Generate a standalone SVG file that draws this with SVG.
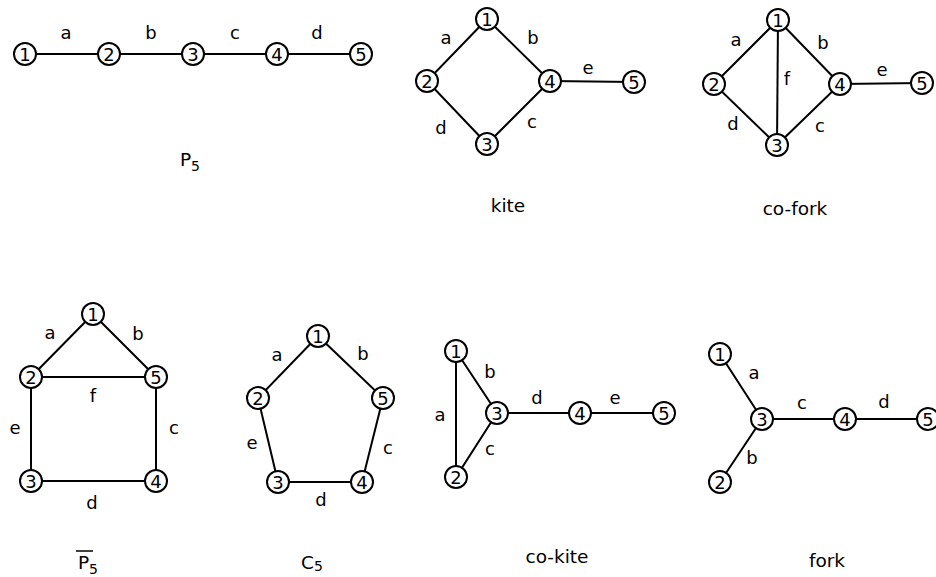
<svg xmlns="http://www.w3.org/2000/svg" width="936" height="577" viewBox="0 0 936 577">
<style>
.e{stroke:#000;stroke-width:2;fill:none}
.n circle{fill:#fff;stroke:#000;stroke-width:2}
.n text{font-family:"DejaVu Sans",sans-serif;font-size:18px;text-anchor:middle;fill:#000}
.l{font-family:"DejaVu Sans",sans-serif;font-size:18px;text-anchor:middle;fill:#000}
.t{font-family:"DejaVu Sans",sans-serif;font-size:18.5px;text-anchor:middle;fill:#000}
</style>
<rect width="936" height="577" fill="#fff"/>

<!-- P5 -->
<g id="p5-edges" class="e">
<line x1="25" y1="54" x2="361" y2="54"/>
</g>
<g id="p5-n1" class="n"><circle cx="25" cy="54" r="11"/><text x="25" y="60.5">1</text></g>
<g id="p5-n2" class="n"><circle cx="109" cy="54" r="11"/><text x="109" y="60.5">2</text></g>
<g id="p5-n3" class="n"><circle cx="193" cy="54" r="11"/><text x="193" y="60.5">3</text></g>
<g id="p5-n4" class="n"><circle cx="277" cy="54" r="11"/><text x="277" y="60.5">4</text></g>
<g id="p5-n5" class="n"><circle cx="361" cy="54" r="11"/><text x="361" y="60.5">5</text></g>
<g class="l"><text x="66" y="39">a</text><text x="151" y="39">b</text><text x="235" y="39">c</text><text x="317" y="39">d</text></g>
<text class="t" x="190" y="166">P<tspan font-size="14" dy="5">5</tspan></text>

<!-- kite -->
<g id="kite-edges" class="e">
<polyline points="487,19 427,81 487,144 550,81 487,19"/>
<line x1="550" y1="81" x2="634" y2="82"/>
</g>
<g id="kite-n1" class="n"><circle cx="487" cy="19" r="11"/><text x="487" y="25.5">1</text></g>
<g id="kite-n2" class="n"><circle cx="427" cy="81" r="11"/><text x="427" y="87.5">2</text></g>
<g id="kite-n3" class="n"><circle cx="487" cy="144" r="11"/><text x="487" y="150.5">3</text></g>
<g id="kite-n4" class="n"><circle cx="550" cy="81" r="11"/><text x="550" y="87.5">4</text></g>
<g id="kite-n5" class="n"><circle cx="634" cy="82" r="11"/><text x="634" y="88.5">5</text></g>
<g class="l"><text x="446" y="44">a</text><text x="533" y="44">b</text><text x="441" y="134">d</text><text x="532" y="128">c</text><text x="588" y="74">e</text></g>
<text class="t" x="508" y="212">kite</text>

<!-- co-fork -->
<g id="cofork-edges" class="e">
<polyline points="778,20 714,84 777,145 840,84 778,20"/>
<line x1="778" y1="20" x2="777" y2="145"/>
<line x1="840" y1="84" x2="922" y2="83"/>
</g>
<g id="cofork-n1" class="n"><circle cx="778" cy="20" r="11"/><text x="778" y="26.5">1</text></g>
<g id="cofork-n2" class="n"><circle cx="714" cy="84" r="11"/><text x="714" y="90.5">2</text></g>
<g id="cofork-n3" class="n"><circle cx="777" cy="145" r="11"/><text x="777" y="151.5">3</text></g>
<g id="cofork-n4" class="n"><circle cx="840" cy="84" r="11"/><text x="840" y="90.5">4</text></g>
<g id="cofork-n5" class="n"><circle cx="922" cy="83" r="11"/><text x="922" y="89.5">5</text></g>
<g class="l"><text x="736" y="46">a</text><text x="823" y="49">b</text><text x="787" y="85">f</text><text x="882" y="76">e</text><text x="733" y="130">d</text><text x="820" y="132">c</text></g>
<text class="t" x="795" y="215">co-fork</text>

<!-- P5 complement -->
<g id="p5bar-edges" class="e">
<polygon points="93,314 31,377 31,481 156,481 156,377"/>
<line x1="31" y1="377" x2="156" y2="377"/>
</g>
<g id="p5bar-n1" class="n"><circle cx="93" cy="314" r="11"/><text x="93" y="320.5">1</text></g>
<g id="p5bar-n2" class="n"><circle cx="31" cy="377" r="11"/><text x="31" y="383.5">2</text></g>
<g id="p5bar-n5" class="n"><circle cx="156" cy="377" r="11"/><text x="156" y="383.5">5</text></g>
<g id="p5bar-n3" class="n"><circle cx="31" cy="481" r="11"/><text x="31" y="487.5">3</text></g>
<g id="p5bar-n4" class="n"><circle cx="156" cy="481" r="11"/><text x="156" y="487.5">4</text></g>
<g class="l"><text x="50" y="339">a</text><text x="138" y="340">b</text><text x="93" y="402">f</text><text x="15" y="434">e</text><text x="174" y="434">c</text><text x="92" y="509">d</text></g>
<text class="t" x="88" y="569">P<tspan font-size="14" dy="5">5</tspan></text>
<line x1="76" y1="551" x2="93" y2="551" stroke="#000" stroke-width="1.5"/>

<!-- C5 -->
<g id="c5-edges" class="e">
<polygon points="318,336 258,398 278,482 362,482 383,398"/>
</g>
<g id="c5-n1" class="n"><circle cx="318" cy="336" r="11"/><text x="318" y="342.5">1</text></g>
<g id="c5-n2" class="n"><circle cx="258" cy="398" r="11"/><text x="258" y="404.5">2</text></g>
<g id="c5-n5" class="n"><circle cx="383" cy="398" r="11"/><text x="383" y="404.5">5</text></g>
<g id="c5-n3" class="n"><circle cx="278" cy="482" r="11"/><text x="278" y="488.5">3</text></g>
<g id="c5-n4" class="n"><circle cx="362" cy="482" r="11"/><text x="362" y="488.5">4</text></g>
<g class="l"><text x="277" y="361">a</text><text x="363" y="360">b</text><text x="252" y="449">e</text><text x="388" y="454">c</text><text x="321" y="506">d</text></g>
<text class="t" x="312" y="569">C<tspan font-size="14" dy="2">5</tspan></text>

<!-- co-kite -->
<g id="cokite-edges" class="e">
<polygon points="456,351 456,477 497,413"/>
<line x1="497" y1="413" x2="664" y2="413"/>
</g>
<g id="cokite-n1" class="n"><circle cx="456" cy="351" r="11"/><text x="456" y="357.5">1</text></g>
<g id="cokite-n2" class="n"><circle cx="456" cy="477" r="11"/><text x="456" y="483.5">2</text></g>
<g id="cokite-n3" class="n"><circle cx="497" cy="413" r="11"/><text x="497" y="419.5">3</text></g>
<g id="cokite-n4" class="n"><circle cx="580" cy="413" r="11"/><text x="580" y="419.5">4</text></g>
<g id="cokite-n5" class="n"><circle cx="664" cy="413" r="11"/><text x="664" y="419.5">5</text></g>
<g class="l"><text x="490" y="378">b</text><text x="440" y="421">a</text><text x="537" y="404">d</text><text x="615" y="404">e</text><text x="490" y="455">c</text></g>
<text class="t" x="557" y="563">co-kite</text>

<!-- fork -->
<g id="fork-edges" class="e">
<polyline points="720,354 762,419 720,482"/>
<line x1="762" y1="419" x2="928" y2="419"/>
</g>
<g id="fork-n1" class="n"><circle cx="720" cy="354" r="11"/><text x="720" y="360.5">1</text></g>
<g id="fork-n2" class="n"><circle cx="720" cy="482" r="11"/><text x="720" y="488.5">2</text></g>
<g id="fork-n3" class="n"><circle cx="762" cy="419" r="11"/><text x="762" y="425.5">3</text></g>
<g id="fork-n4" class="n"><circle cx="845" cy="419" r="11"/><text x="845" y="425.5">4</text></g>
<g id="fork-n5" class="n"><circle cx="928" cy="419" r="11"/><text x="928" y="425.5">5</text></g>
<g class="l"><text x="754" y="379">a</text><text x="752" y="464">b</text><text x="802" y="409">c</text><text x="884" y="408">d</text></g>
<text class="t" x="827" y="567">fork</text>
</svg>
